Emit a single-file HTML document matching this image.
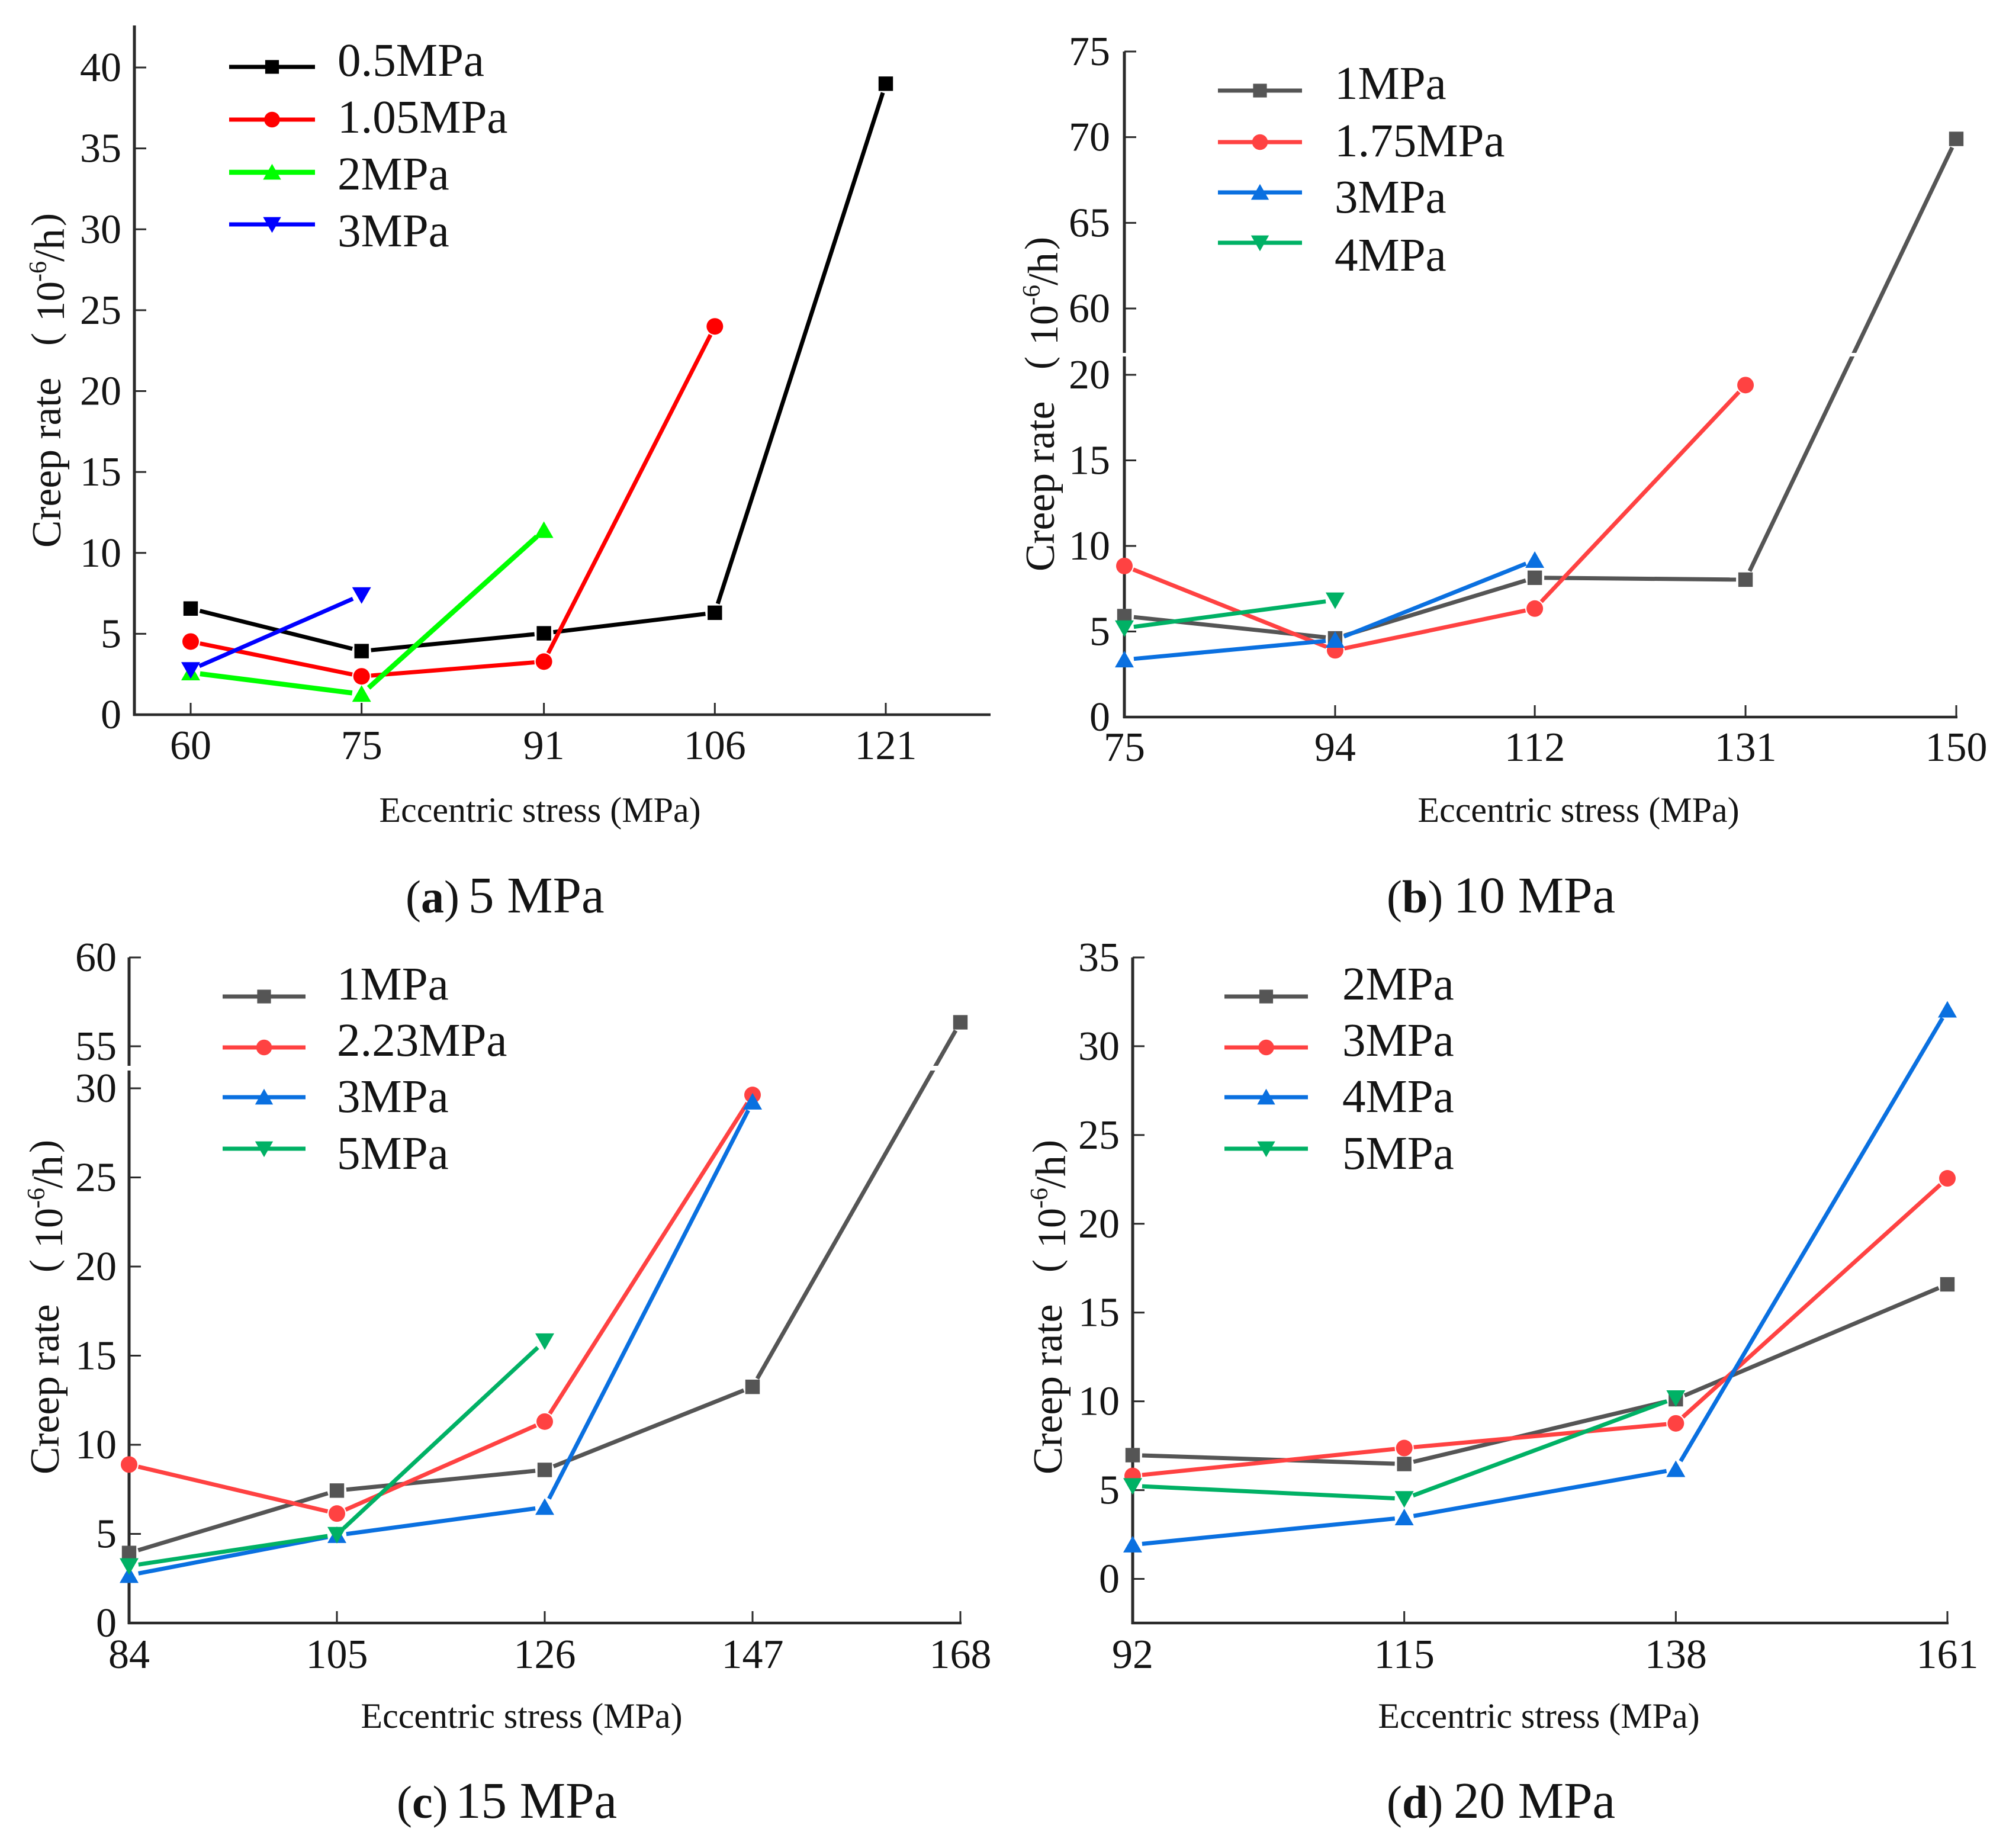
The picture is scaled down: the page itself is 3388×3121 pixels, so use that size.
<!DOCTYPE html>
<html lang="en">
<head>
<meta charset="utf-8">
<title>Creep rate versus eccentric stress</title>
<style>
html,body{margin:0;padding:0;background:#fff;}
svg{display:block;}
text{font-family:"Liberation Serif","Noto Serif CJK SC",serif;fill:#141414;}
</style>
</head>
<body>
<svg id="chart" xmlns="http://www.w3.org/2000/svg" width="3388" height="3121" viewBox="0 0 3388 3121">
<rect x="0" y="0" width="3388" height="3121" fill="#fff"/>
<text y="1541"><tspan x="685" font-size="78">(<tspan font-weight="bold">a</tspan>)</tspan><tspan x="791" font-size="87">5 MPa</tspan></text>
<text y="1541"><tspan x="2342" font-size="78">(<tspan font-weight="bold">b</tspan>)</tspan><tspan x="2455" font-size="87">10 MPa</tspan></text>
<text y="3070"><tspan x="670" font-size="78">(<tspan font-weight="bold">c</tspan>)</tspan><tspan x="769" font-size="87">15 MPa</tspan></text>
<text y="3070"><tspan x="2342" font-size="78">(<tspan font-weight="bold">d</tspan>)</tspan><tspan x="2455" font-size="87">20 MPa</tspan></text>
</svg>
<script>
// Panel (a) 5 MPa
const aCategories = [60, 75, 91, 106, 121];
const aYTicks = [0, 5, 10, 15, 20, 25, 30, 35, 40];
const aSeriesNames = ['0.5MPa', '1.05MPa', '2MPa', '3MPa'];
const aValues1 = [6.56, 3.93, 5.03, 6.3, 39.0];
const aValues2 = [4.52, 2.37, 3.28, 24.0];
const aValues3 = [2.6, 1.27, 11.4];
const aValues4 = [2.77, 7.4];

// Panel (b) 10 MPa
const bCategories = [75, 94, 112, 131, 150];
const bYTicks = [0, 5, 10, 15, 20, 60, 65, 70, 75];
const bSeriesNames = ['1MPa', '1.75MPa', '3MPa', '4MPa'];
const bValues1 = [5.9, 4.6, 8.14, 8.03, 69.9];
const bValues2 = [8.83, 3.9, 6.34, 19.4];
const bValues3 = [3.35, 4.5, 9.17];
const bValues4 = [5.2, 6.83];

// Panel (c) 15 MPa
const cCategories = [84, 105, 126, 147, 168];
const cYTicks = [0, 5, 10, 15, 20, 25, 30, 55, 60];
const cSeriesNames = ['1MPa', '2.23MPa', '3MPa', '5MPa'];
const cValues1 = [3.93, 7.43, 8.59, 13.25, 56.35];
const cValues2 = [8.89, 6.14, 11.3, 29.63];
const cValues3 = [2.68, 4.92, 6.5, 29.24];
const cValues4 = [3.2, 4.96, 15.82];

// Panel (d) 20 MPa
const dCategories = [92, 115, 138, 161];
const dYTicks = [0, 5, 10, 15, 20, 25, 30, 35];
const dSeriesNames = ['2MPa', '3MPa', '4MPa', '5MPa'];
const dValues1 = [6.97, 6.47, 10.12, 16.59];
const dValues2 = [5.8, 7.37, 8.76, 22.56];
const dValues3 = [1.92, 3.45, 6.17, 32.05];
const dValues4 = [5.24, 4.51, 10.19];

const SVGNS = 'http://www.w3.org/2000/svg';
const svg = document.getElementById('chart');
const brightColors = ['#000000', '#ff0000', '#00ff00', '#0000ff'];
const softColors = ['#555555', '#ff4242', '#0a70e0', '#00b165'];
const shapes = ['square', 'circle', 'up', 'down'];
const axisColor = '#2a2a2a';

const panels = [
  {id: 'a', cats: aCategories, yTicks: aYTicks, names: aSeriesNames,
   series: [aValues1, aValues2, aValues3, aValues4], colors: brightColors,
   widths: [7, 7, 8.5, 7],
   xRange: [322, 1496], axisX: 227, axisRight: 1671, axisBottom: 1207, axisTop: 43,
   lower: {d: [0, 40], r: [1207, 114]}, upper: null, band: null,
   labelRight: 205, xLabelY: 1282, xTitleX: 912, xTitleY: 1388,
   legX: [387, 532], legY: [113, 202, 291, 379], legTextX: 570, legTextY: [128, 224, 320, 416],
   yTitleX: 102, yTitleB: 925},
  {id: 'b', cats: bCategories, yTicks: bYTicks, names: bSeriesNames,
   series: [bValues1, bValues2, bValues3, bValues4], colors: softColors,
   widths: [7, 7, 7, 7],
   xRange: [1899, 3304], axisX: 1899, axisRight: 3304, axisBottom: 1211, axisTop: 87,
   lower: {d: [0, 20], r: [1211, 633]}, upper: {d: [60, 75], r: [521, 87]}, band: [596, 602],
   labelRight: 1875, xLabelY: 1285, xTitleX: 2666, xTitleY: 1388,
   legX: [2057, 2199], legY: [153, 240, 325, 410], legTextX: 2254, legTextY: [167, 264, 359, 457],
   yTitleX: 1780, yTitleB: 965},
  {id: 'c', cats: cCategories, yTicks: cYTicks, names: cSeriesNames,
   series: [cValues1, cValues2, cValues3, cValues4], colors: softColors,
   widths: [7, 7, 7, 7],
   xRange: [218, 1622], axisX: 218, axisRight: 1622, axisBottom: 2741, axisTop: 1617,
   lower: {d: [0, 30], r: [2741, 1838]}, upper: {d: [55, 60], r: [1767, 1617]}, band: [1800, 1808],
   labelRight: 197, xLabelY: 2817, xTitleX: 881, xTitleY: 2918,
   legX: [376, 516], legY: [1683, 1769, 1853, 1940], legTextX: 569, legTextY: [1688, 1783, 1878, 1974],
   yTitleX: 99, yTitleB: 2490},
  {id: 'd', cats: dCategories, yTicks: dYTicks, names: dSeriesNames,
   series: [dValues1, dValues2, dValues3, dValues4], colors: softColors,
   widths: [7, 7, 7, 7],
   xRange: [1913, 3289], axisX: 1913, axisRight: 3289, axisBottom: 2741, axisTop: 1617,
   lower: {d: [0, 35], r: [2666.5, 1617]}, upper: null, band: null,
   labelRight: 1891, xLabelY: 2817, xTitleX: 2599, xTitleY: 2918,
   legX: [2068, 2209], legY: [1683, 1769, 1853, 1940], legTextX: 2267, legTextY: [1688, 1783, 1878, 1974],
   yTitleX: 1793, yTitleB: 2490}
];

function xScale(p, v) {
  const c = p.cats;
  return p.xRange[0] + (v - c[0]) * (p.xRange[1] - p.xRange[0]) / (c[c.length - 1] - c[0]);
}
function yScale(p, v) {
  let s = p.lower;
  if (p.upper && v > (p.lower.d[1] + p.upper.d[0]) / 2) s = p.upper;
  return s.r[0] + (v - s.d[0]) * (s.r[1] - s.r[0]) / (s.d[1] - s.d[0]);
}
function line(parent, x1, y1, x2, y2, color, width) {
  const el = document.createElementNS(SVGNS, 'line');
  el.setAttribute('x1', x1);
  el.setAttribute('y1', y1);
  el.setAttribute('x2', x2);
  el.setAttribute('y2', y2);
  el.setAttribute('stroke', color);
  el.setAttribute('stroke-width', width);
  parent.appendChild(el);
  return el;
}
function label(parent, x, y, str, size, anchor, rotate) {
  const el = document.createElementNS(SVGNS, 'text');
  el.setAttribute('font-size', size);
  if (anchor) el.setAttribute('text-anchor', anchor);
  if (rotate) el.setAttribute('transform', 'translate(' + x + ' ' + y + ') rotate(-90)');
  else { el.setAttribute('x', x); el.setAttribute('y', y); }
  el.textContent = str;
  parent.appendChild(el);
  return el;
}
function marker(parent, shape, x, y, color, scale) {
  let el;
  if (shape === 'square') {
    const h = 12.2 * scale;
    el = document.createElementNS(SVGNS, 'rect');
    el.setAttribute('x', x - h);
    el.setAttribute('y', y - h);
    el.setAttribute('width', 2 * h);
    el.setAttribute('height', 2 * h);
  } else if (shape === 'circle') {
    el = document.createElementNS(SVGNS, 'circle');
    el.setAttribute('cx', x);
    el.setAttribute('cy', y);
    el.setAttribute('r', 14 * scale);
  } else {
    const dir = shape === 'up' ? 1 : -1;
    const w = 16 * scale, a = 15 * scale, b = 13 * scale;
    el = document.createElementNS(SVGNS, 'polygon');
    el.setAttribute('points', x + ',' + (y - dir * a) + ' ' + (x - w) + ',' + (y + dir * b) + ' ' + (x + w) + ',' + (y + dir * b));
  }
  el.setAttribute('fill', color);
  parent.appendChild(el);
  return el;
}

panels.forEach(function (p) {
  const g = document.createElementNS(SVGNS, 'g');
  
  
  svg.appendChild(g);

  // axes
  const yAxis = line(g, p.axisX, p.axisBottom + 2, p.axisX, p.axisTop, axisColor, 5);
  
  
  const xAxis = line(g, p.axisX - 2, p.axisBottom, p.axisRight + 2, p.axisBottom, axisColor, 4.5);
  
  

  p.yTicks.forEach(function (t) {
    const y = yScale(p, t);
    const tick = line(g, p.axisX, y, p.axisX + 20, y, axisColor, 3);
    
    
    const txt = label(g, p.labelRight, y + 23, String(t), 70, 'end');
    
    
  });
  p.cats.forEach(function (c) {
    const x = xScale(p, c);
    const tick = line(g, x, p.axisBottom, x, p.axisBottom - 20, axisColor, 3);
    
    
    const txt = label(g, x, p.xLabelY, String(c), 70, 'middle');
    
    
  });

  // axis titles
  const xt = label(g, p.xTitleX, p.xTitleY, 'Eccentric stress (MPa)', 60, 'middle');
  
  

  const yg = document.createElementNS(SVGNS, 'g');
  
  
  g.appendChild(yg);
  label(yg, p.yTitleX, p.yTitleB, 'Creep rate', 69.5, null, true);
  label(yg, p.yTitleX - 4, p.yTitleB - 341, '(', 66, null, true);
  label(yg, p.yTitleX + 6, p.yTitleB - 382, '10', 68, null, true);
  label(yg, p.yTitleX - 24, p.yTitleB - 449, '-6', 42, null, true);
  label(yg, p.yTitleX + 6, p.yTitleB - 483, '/h', 72, null, true);
  label(yg, p.yTitleX - 4, p.yTitleB - 543, ')', 66, null, true);

  // series lines (straight in screen space, with a small gap at each symbol)
  const gap = 16;
  p.series.forEach(function (vals, si) {
    const sg = document.createElementNS(SVGNS, 'g');
    
    
    g.appendChild(sg);
    for (let i = 0; i < vals.length - 1; i++) {
      const x1 = xScale(p, p.cats[i]), y1 = yScale(p, vals[i]);
      const x2 = xScale(p, p.cats[i + 1]), y2 = yScale(p, vals[i + 1]);
      const len = Math.hypot(x2 - x1, y2 - y1);
      const ux = (x2 - x1) / len, uy = (y2 - y1) / len;
      const seg = line(sg, x1 + ux * gap, y1 + uy * gap, x2 - ux * gap, y2 - uy * gap, p.colors[si], p.widths[si]);
      
      
    }
  });

  // axis break band
  if (p.band) {
    const r = document.createElementNS(SVGNS, 'rect');
    
    
    r.setAttribute('x', p.axisX - 6);
    r.setAttribute('y', p.band[0]);
    r.setAttribute('width', p.axisRight - p.axisX + 40);
    r.setAttribute('height', p.band[1] - p.band[0]);
    r.setAttribute('fill', '#fff');
    g.appendChild(r);
  }

  // markers
  p.series.forEach(function (vals, si) {
    vals.forEach(function (v, i) {
      const m = marker(g, shapes[si], xScale(p, p.cats[i]), yScale(p, v), p.colors[si], 1);
      
      
    });
  });

  // legend
  const lg = document.createElementNS(SVGNS, 'g');
  
  
  g.appendChild(lg);
  p.names.forEach(function (n, i) {
    const entry = document.createElementNS(SVGNS, 'g');
    
    
    lg.appendChild(entry);
    line(entry, p.legX[0], p.legY[i], p.legX[1], p.legY[i], p.colors[i], p.widths[i]);
    marker(entry, shapes[i], (p.legX[0] + p.legX[1]) / 2, p.legY[i], p.colors[i], 0.95);
    label(entry, p.legTextX, p.legTextY[i], n, 79);
  });
});
</script>
</body>
</html>
